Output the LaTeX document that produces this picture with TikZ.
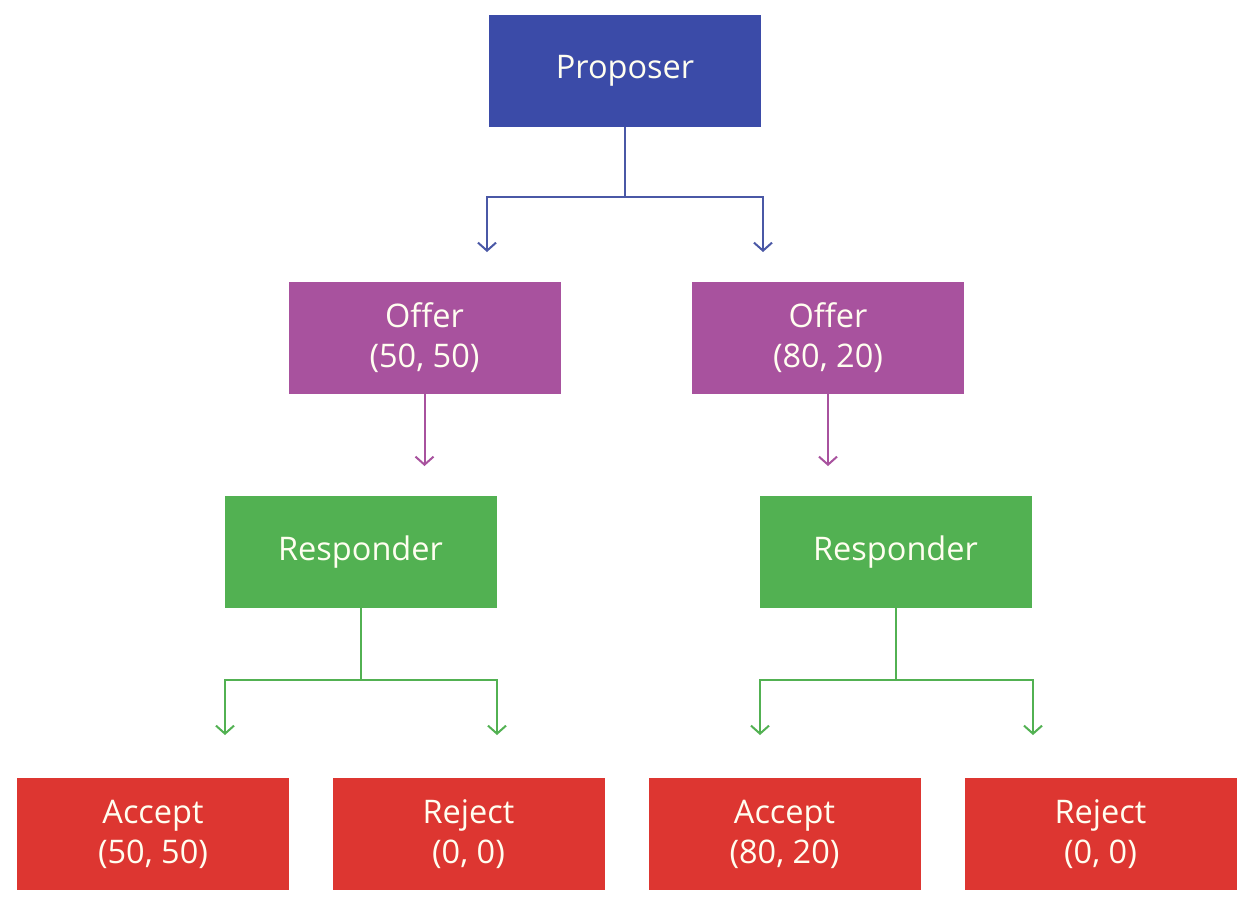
\documentclass[tikz,border=0pt]{standalone}
\usepackage{fontspec}
\setmainfont{Open Sans}
\usetikzlibrary{arrows.meta}
\definecolor{cblue}{HTML}{3B4BA8}
\definecolor{cbluel}{HTML}{4A58A6}
\definecolor{cpurp}{HTML}{A8529E}
\definecolor{cgreen}{HTML}{52B152}
\definecolor{cred}{HTML}{DD3631}
\begin{document}
\begin{tikzpicture}[x=1pt,y=-1pt,
  box/.style={rectangle, minimum width=272pt, minimum height=112pt, inner sep=0pt,
    text=white!94!yellow, align=center, font=\fontsize{32.5}{40}\selectfont},
  conn/.style={line width=2pt, -{Straight Barb[length=8pt,width=18pt,line width=2pt]}},
]
\useasboundingbox (0,0) rectangle (1252,906);
\fill[white] (0,0) rectangle (1252,906);
\node[box, fill=cblue] (prop) at (625,71) {Proposer};
\node[box, fill=cpurp] (offL) at (424.5,337.5) {Offer\\(50, 50)};
\node[box, fill=cpurp] (offR) at (828,337.5) {Offer\\(80, 20)};
\node[box, fill=cgreen] (resL) at (360.5,552) {Responder};
\node[box, fill=cgreen] (resR) at (895.5,552) {Responder};
\node[box, fill=cred] (accL) at (153,834) {Accept\\(50, 50)};
\node[box, fill=cred] (rejL) at (468.5,834) {Reject\\(0, 0)};
\node[box, fill=cred] (accR) at (784.5,834) {Accept\\(80, 20)};
\node[box, fill=cred] (rejR) at (1100.5,834) {Reject\\(0, 0)};
\coordinate (pj) at (625,197);
\coordinate (pl) at (487,252);
\coordinate (pr) at (763,252);
\coordinate (ol) at (424.5,466);
\coordinate (or) at (828,466);
\coordinate (rlj) at (360.5,680);
\coordinate (rl1) at (225,735);
\coordinate (rl2) at (497,735);
\coordinate (rrj) at (895.5,680);
\coordinate (rr1) at (760,735);
\coordinate (rr2) at (1033,735);
\draw[conn, cbluel] (prop.south) -- (pj) -| (pl);
\draw[conn, cbluel] (pj) -| (pr);
\draw[conn, cpurp] (offL.south) -- (ol);
\draw[conn, cpurp] (offR.south) -- (or);
\draw[conn, cgreen] (resL.south) -- (rlj) -| (rl1);
\draw[conn, cgreen] (rlj) -| (rl2);
\draw[conn, cgreen] (resR.south) -- (rrj) -| (rr1);
\draw[conn, cgreen] (rrj) -| (rr2);
\end{tikzpicture}
\end{document}
